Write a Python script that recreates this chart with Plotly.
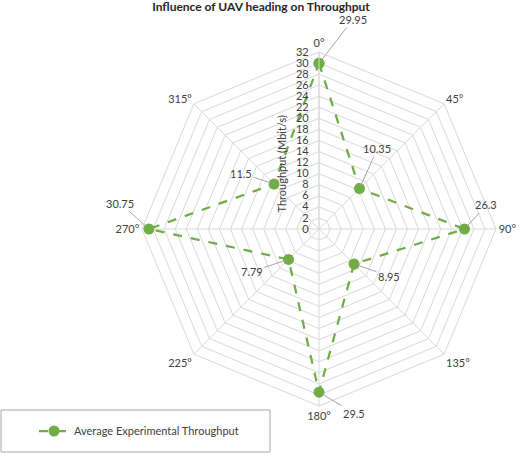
import math
import plotly.graph_objects as go

headings = ["0°", "45°", "90°", "135°", "180°", "225°", "270°", "315°"]
throughput = [29.95, 10.35, 26.3, 8.95, 29.5, 7.79, 30.75, 11.5]
label_text = ["29.95", "10.35", "26.3", "8.95", "29.5", "7.79", "30.75", "11.5"]
# label offsets in px (dx, dy) from each point, like Excel's dragged labels
label_dx = [34, 18, 22, 35, 35, -37, -29, -33]
label_dy = [-44, -40, -24, 12, 21, 12, -26, -11]

W, H = 522, 456
R_MAX = 32
# polar area placement in px
cx, cy, rad = 319, 229, 177
dom_x = [(cx - rad) / W, (cx + rad) / W]
dom_y = [1 - (cy + rad) / H, 1 - (cy - rad) / H]

GREEN = "#70ad47"
TXT = "#404040"
FONT = "Lato"

fig = go.Figure()
fig.add_trace(go.Scatterpolar(
    r=throughput + throughput[:1],
    theta=headings + headings[:1],
    mode="lines+markers",
    name="Average Experimental Throughput",
    line=dict(color=GREEN, width=2.25, dash="dash"),
    marker=dict(color=GREEN, size=11),
    cliponaxis=False,
))

# data labels with leader lines
for i, (r, lab) in enumerate(zip(throughput, label_text)):
    ang = math.radians(45 * i)
    px = cx + rad * r / R_MAX * math.sin(ang)
    py = cy - rad * r / R_MAX * math.cos(ang)
    fig.add_annotation(
        x=px / W, y=1 - py / H, xref="paper", yref="paper",
        text=lab, showarrow=True, arrowhead=0, arrowwidth=1,
        arrowcolor="#a6a6a6", ax=label_dx[i], ay=label_dy[i],
        standoff=4, font=dict(family=FONT, size=11, color=TXT),
    )

fig.add_annotation(
    x=(cx - 38) / W, y=1 - 114 / H, xref="paper", yref="paper",
    text="Throughput (Mbit/s)", textangle=-90, showarrow=False,
    font=dict(family=FONT, size=11, color=TXT),
)

# legend frame
fig.add_shape(type="rect", xref="paper", yref="paper",
              x0=1 / W, x1=270 / W, y0=1 - 452 / H, y1=1 - 410 / H,
              line=dict(color="#a6a6a6", width=1))

fig.update_layout(
    width=W, height=H,
    margin=dict(l=0, r=0, t=0, b=0),
    paper_bgcolor="white",
    title=dict(text="<b>Influence of UAV heading on Throughput</b>",
               x=0.5, xanchor="center", y=0.994, yanchor="top",
               font=dict(family=FONT, size=12, color="#262626")),
    font=dict(family=FONT, size=11, color=TXT),
    polar=dict(
        domain=dict(x=dom_x, y=dom_y),
        gridshape="linear",
        bgcolor="white",
        angularaxis=dict(
            rotation=90, direction="clockwise",
            showline=True, linecolor="#d9d9d9", linewidth=1,
            gridcolor="#d9d9d9", gridwidth=1,
            ticks="", tickfont=dict(family=FONT, size=11, color=TXT),
        ),
        radialaxis=dict(
            range=[0, R_MAX], dtick=2, angle=90, tickangle=90,
            side="counterclockwise",
            showline=True, linecolor="#d9d9d9",
            gridcolor="#d9d9d9", gridwidth=1,
            ticks="outside", ticklen=6, tickcolor="rgba(0,0,0,0)",
            tickfont=dict(family=FONT, size=11, color=TXT),
        ),
    ),
    showlegend=True,
    legend=dict(x=34 / W, y=1 - 431 / H, xanchor="left", yanchor="middle",
                orientation="h", bgcolor="rgba(0,0,0,0)",
                font=dict(family=FONT, size=11, color=TXT)),
)

fig.write_html("out.html", config={"displayModeBar": False},
               post_script="document.body.style.margin='0';")
